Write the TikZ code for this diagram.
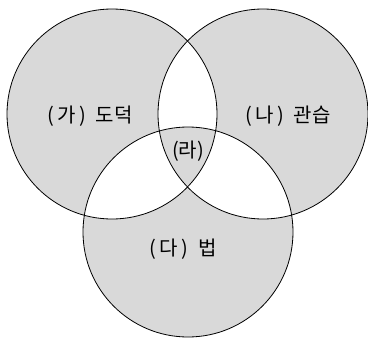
\documentclass[tikz,border=0pt]{standalone}
\usepackage{fontspec}
\newfontfamily\kor{Noto Sans CJK KR}
\begin{document}
\begin{tikzpicture}[x=1pt,y=-1pt,line cap=round,line join=round,font=\kor\fontsize{20}{24}\selectfont]
			\def\r{105pt}
			\useasboundingbox (0,0) rectangle (368,338);
			\coordinate (doduk) at (112,114);
			\coordinate (gwanseup) at (263,114);
			\coordinate (beop) at (188,232);
			\fill[black!15,even odd rule] (doduk) circle (\r) (gwanseup) circle (\r) (beop) circle (\r);
			\foreach \c in{doduk,gwanseup,beop}{\draw[line width=0.8pt] (\c) circle (\r);}
			\node (ga) at (90,116) {(\,가\,)\enspace 도덕};
			\node (na) at (288,116) {(\,나\,)\enspace 관습};
			\node (da) at (183,249) {(\,다\,)\enspace 법};
			\node (ra) at (188,151) {(라)};
		\end{tikzpicture}
\end{document}
